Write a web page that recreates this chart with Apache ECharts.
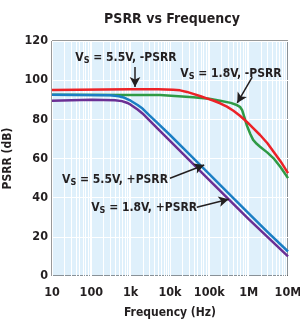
<!DOCTYPE html>
<html>
<head>
<meta charset="utf-8">
<script src="https://cdn.jsdelivr.net/npm/echarts@6/dist/echarts.min.js"></script>
<style>
  html, body { margin: 0; padding: 0; background: #fff; }
  #chart { width: 300px; height: 322px; }
</style>
</head>
<body>
<div id="chart"></div>
<script>
// values: [frequency Hz, PSRR dB]
var vs55Neg = [[10, 95], [1000, 95.3], [5000, 95.3], [12000, 95.1], [18000, 94.8], [27000, 94], [39000, 93], [60000, 91.8], [86000, 90.7], [130000, 89.5], [188000, 88.2], [280000, 86.5], [410000, 84.4], [600000, 81.8], [890000, 78.8], [1300000, 75.5], [1950000, 72], [3000000, 67.8], [4300000, 63.5], [6500000, 58.5], [10000000, 52.5]]
var vs18Neg = [[10, 92.5], [1000, 92.4], [5600, 92.4], [39000, 91.3], [100000, 90.5], [188000, 89.5], [350000, 88.4], [500000, 87.3], [600000, 86.4], [680000, 84.8], [780000, 81], [890000, 77.1], [1100000, 72.5], [1300000, 69.5], [1600000, 67.5], [1950000, 66], [3000000, 63], [4300000, 60.1], [6500000, 55.5], [10000000, 50]]
var vs55Pos = [[10, 92.5], [300, 92.3], [500, 91.8], [700, 91], [1000, 89.5], [1500, 87.3], [2000, 85.5], [3000, 82], [5000, 77.8], [10000, 72], [30000, 62.5], [100000, 52], [300000, 42.5], [1000000, 32], [3000000, 22.5], [10000000, 12.5]]
var vs18Pos = [[10, 89.5], [100, 90], [400, 89.8], [600, 89.3], [800, 88.5], [1000, 87.5], [1500, 85], [2000, 83], [3000, 79.5], [5000, 75], [10000, 69], [100000, 49], [1000000, 29], [10000000, 10]]
var xTickLabels = { 10: '10', 100: '100', 1000: '1k', 10000: '10k', 100000: '100k', 1000000: '1M', 10000000: '10M' }

var FONT = '"Liberation Sans Narrow", "DejaVu Sans Condensed", sans-serif'
var INK = '#231f20'

// log minor grid positions (2..9 in every decade)
var minorGrid = []
for (var d = 10; d < 1e7; d *= 10) {
  for (var k = 2; k <= 9; k++) minorGrid.push([d * k])
}

function label(txt, coord) {
  return {
    coord: coord,
    symbol: 'circle',
    symbolSize: 1,
    itemStyle: { color: 'rgba(0,0,0,0)' },
    label: {
      show: true,
      position: 'inside',
      formatter: '{v|V}{s|S}{v|' + txt + '}',
      rich: {
        v: { fontFamily: FONT, fontWeight: 'bold', fontSize: 12, color: INK, lineHeight: 16 },
        s: { fontFamily: FONT, fontWeight: 'bold', fontSize: 9, color: INK, lineHeight: 16, padding: [6, 0, 0, 0] }
      }
    }
  }
}

function arrow(from, to) {
  return [{ coord: from }, { coord: to }]
}

var chart = echarts.init(document.getElementById('chart'))

function line(name, data, color) {
  return {
    name: name,
    type: 'line',
    data: data,
    showSymbol: false,
    smooth: false,
    z: 3,
    lineStyle: { color: color, width: 2.5, join: 'round' },
    itemStyle: { color: color },
    animation: false
  }
}

chart.setOption({
  animation: false,
  title: {
    text: 'PSRR vs Frequency',
    left: 167,
    textAlign: 'center',
    top: 7,
    textStyle: { fontFamily: FONT, fontWeight: 'bold', fontSize: 14, color: INK }
  },
  grid: {
    left: 52, right: 12, top: 41, bottom: 46,
    outerBoundsMode: 'none',
    containLabel: false,
    show: true,
    backgroundColor: '#dff0fb',
    borderColor: '#333',
    borderWidth: 1
  },
  xAxis: {
    type: 'log',
    logBase: 10,
    min: 10,
    max: 10000000,
    name: 'Frequency (Hz)',
    nameLocation: 'middle',
    nameGap: 31,
    nameTextStyle: { fontFamily: FONT, fontWeight: 'bold', fontSize: 12, color: INK },
    axisLine: { show: false },
    axisTick: { show: false },
    axisLabel: {
      margin: 10,
      fontFamily: FONT, fontWeight: 'bold', fontSize: 12.5, color: INK,
      formatter: function (v) { return xTickLabels[Math.round(v)] || '' }
    },
    splitLine: { show: true, lineStyle: { color: '#ffffff', width: 1 } }
  },
  yAxis: {
    type: 'value',
    min: 0,
    max: 120,
    interval: 20,
    name: 'PSRR (dB)',
    nameLocation: 'middle',
    nameGap: 27,
    nameTextStyle: { fontFamily: FONT, fontWeight: 'bold', fontSize: 12, color: INK },
    axisLine: { show: false },
    axisTick: { show: false },
    axisLabel: { margin: 4, fontFamily: FONT, fontWeight: 'bold', fontSize: 12.5, color: INK },
    splitLine: { show: true, lineStyle: { color: '#ffffff', width: 1 } }
  },
  series: [
    {
      type: 'custom',
      silent: true,
      z: 1,
      data: minorGrid,
      encode: { x: 0 },
      renderItem: function (params, api) {
        var p0 = api.coord([api.value(0), 0])
        var p1 = api.coord([api.value(0), 120])
        return {
          type: 'line',
          shape: { x1: Math.round(p0[0]) + 0.5, y1: p0[1], x2: Math.round(p0[0]) + 0.5, y2: p1[1] },
          style: { stroke: '#ffffff', lineWidth: 1 }
        }
      },
      animation: false
    },
    line('Vs = 1.8V, -PSRR', vs18Neg, '#2f9a45'),
    line('Vs = 5.5V, -PSRR', vs55Neg, '#ec2227'),
    line('Vs = 1.8V, +PSRR', vs18Pos, '#6b2f94'),
    Object.assign(line('Vs = 5.5V, +PSRR', vs55Pos, '#1b7ec4'), {
      markPoint: {
        silent: true,
        data: [
          label(' = 5.5V, -PSRR', [760, 111.3]),
          label(' = 1.8V, -PSRR', [355000, 103.2]),
          label(' = 5.5V, +PSRR', [400, 49]),
          label(' = 1.8V, +PSRR', [2200, 34.7])
        ]
      },
      markLine: {
        silent: true,
        symbol: ['none', 'arrow'],
        symbolSize: [8, 10],
        label: { show: false },
        lineStyle: { color: INK, width: 1.5, type: 'solid' },
        data: [
          arrow([1290, 106.7], [1290, 96.5]),
          arrow([1230000, 101.6], [513000, 88.4]),
          arrow([10000, 49.9], [74000, 56.7]),
          arrow([48000, 35.1], [310000, 39.2])
        ]
      }
    })
  ]
})
</script>
</body>
</html>
